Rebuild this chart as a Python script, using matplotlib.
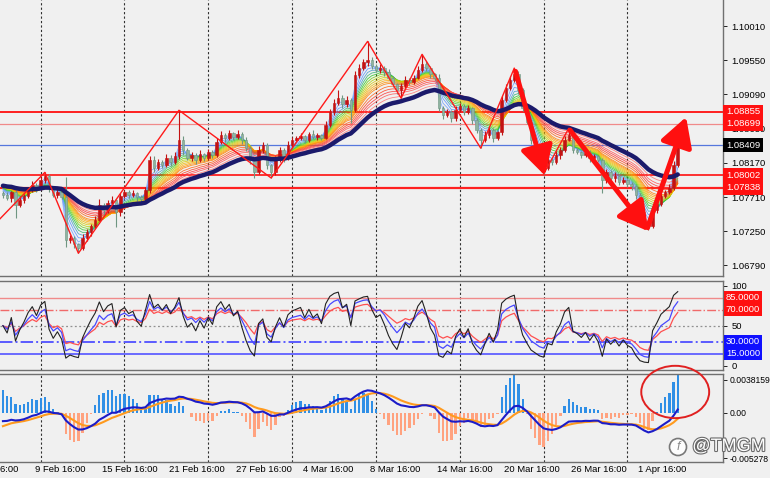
import numpy as np
import matplotlib
matplotlib.use("Agg")
import matplotlib.pyplot as plt
from matplotlib.colors import LinearSegmentedColormap
from matplotlib.patches import Ellipse
from matplotlib.transforms import blended_transform_factory
import matplotlib.patheffects as pe

plt.rcParams['font.family'] = ['Liberation Sans', 'DejaVu Sans']

# --- price data (EURUSD) ---
open0 = 1.07760
closes = [
    1.07737, 1.07697, 1.07777, 1.07602, 1.07670, 1.07723, 1.07804, 1.07871, 1.07831, 1.07939,
    1.07992, 1.07831, 1.07737, 1.07777, 1.07710, 1.07132, 1.07159, 1.07078, 1.07024, 1.07159,
    1.07239, 1.07320, 1.07401, 1.07602, 1.07535, 1.07629, 1.07670, 1.07508, 1.07723, 1.07777,
    1.07737, 1.07764, 1.07710, 1.07683, 1.07804, 1.08208, 1.08100, 1.08181, 1.08140, 1.08235,
    1.08181, 1.08261, 1.08477, 1.08342, 1.08235, 1.08275, 1.08208, 1.08288, 1.08235, 1.08315,
    1.08275, 1.08450, 1.08544, 1.08504, 1.08571, 1.08517, 1.08557, 1.08477, 1.08369, 1.08208,
    1.08046, 1.08342, 1.08409, 1.08140, 1.08046, 1.08208, 1.08342, 1.08235, 1.08409, 1.08477,
    1.08504, 1.08530, 1.08477, 1.08557, 1.08517, 1.08544, 1.08504, 1.08678, 1.08853, 1.08974,
    1.09042, 1.08961, 1.09015, 1.08880, 1.09351, 1.09445, 1.09526, 1.09553, 1.09472, 1.09418,
    1.09445, 1.09391, 1.09311, 1.09230, 1.09149, 1.09203, 1.09284, 1.09257, 1.09311, 1.09418,
    1.09499, 1.09445, 1.09364, 1.09311, 1.08907, 1.08813, 1.08853, 1.08773, 1.08880, 1.08934,
    1.08853, 1.08907, 1.08746, 1.08611, 1.08477, 1.08544, 1.08611, 1.08504, 1.08584, 1.09015,
    1.09176, 1.09284, 1.09364, 1.09149, 1.08907, 1.08719, 1.08477, 1.08342, 1.08181, 1.08100,
    1.08208, 1.08181, 1.08275, 1.08342, 1.08477, 1.08544, 1.08342, 1.08315, 1.08275, 1.08302,
    1.08235, 1.08261, 1.08208, 1.07939, 1.08046, 1.07966, 1.07992, 1.07912, 1.07939, 1.07885,
    1.07858, 1.07737, 1.07508, 1.07374, 1.07320, 1.07535, 1.07616, 1.07723, 1.07777, 1.07831,
    1.08140, 1.08409,
]
# wicks in pips above/below the candle body
up_wick = [
    3, 4, 2, 3, 5, 3, 4, 6, 3, 4, 5, 3, 2, 4, 3, 27, 4, 3, 2, 5,
    4, 3, 6, 8, 3, 4, 5, 2, 4, 3, 3, 4, 2, 3, 4, 6, 5, 4, 3, 5,
    4, 6, 40, 5, 3, 4, 3, 5, 2, 4, 3, 5, 6, 3, 4, 2, 5, 3, 4, 3,
    2, 6, 4, 3, 2, 5, 4, 3, 6, 4, 3, 4, 2, 3, 5, 3, 2, 6, 4, 5,
    11, 4, 5, 3, 6, 5, 4, 25, 4, 3, 5, 3, 4, 3, 2, 4, 5, 3, 4, 6,
    13, 4, 3, 2, 5, 3, 4, 3, 6, 4, 3, 4, 2, 3, 3, 5, 4, 3, 2, 6,
    6, 5, 8, 4, 3, 2, 3, 4, 2, 3, 4, 3, 5, 4, 6, 9, 3, 4, 2, 3,
    4, 3, 2, 3, 4, 3, 5, 3, 4, 2, 3, 2, 3, 2, 3, 4, 3, 4, 3, 5,
    6, 4,
]
lo_wick = [
    4, 3, 5, 17, 3, 4, 3, 2, 5, 3, 4, 5, 3, 4, 3, 9, 4, 5, 7, 3,
    4, 5, 3, 2, 6, 4, 3, 20, 5, 3, 4, 3, 5, 4, 3, 4, 5, 3, 4, 3,
    5, 3, 4, 6, 3, 4, 5, 3, 4, 3, 4, 3, 2, 5, 3, 4, 3, 5, 4, 6,
    8, 3, 4, 5, 8, 4, 3, 5, 3, 4, 2, 3, 4, 3, 2, 4, 3, 2, 3, 4,
    3, 5, 4, 17, 3, 4, 3, 5, 4, 3, 4, 5, 3, 4, 5, 11, 3, 4, 3, 2,
    3, 4, 5, 3, 4, 6, 3, 5, 4, 3, 4, 3, 5, 4, 11, 3, 4, 5, 3, 4,
    3, 2, 3, 5, 4, 3, 5, 4, 3, 8, 3, 4, 3, 5, 3, 2, 4, 3, 4, 3,
    5, 4, 3, 17, 4, 3, 5, 4, 3, 4, 5, 6, 4, 5, 5, 3, 4, 3, 2, 3,
    3, 2,
]
ma_seed = 1.07871          # moving averages start level
macd_seeds = (1.07780, 1.07885, -0.0018)

# zigzag pivots (bar index, H = high / L = low)
zz_start = (-1, 1.07400)
zz_bars = [10, 18, 42, 64, 87, 95, 100, 114, 122, 129, 135, 154, 161]
zz_kind = ['H', 'L', 'H', 'L', 'H', 'L', 'H', 'L', 'H', 'L', 'H', 'L', 'C']
arrow_from = [(122.3, 1.09400), (135.3, 1.08610), (153.8, 1.07300)]
arrow_to = [(129.3, 1.08000), (154.0, 1.07250), (163.0, 1.08786)]

levels = [1.08855, 1.08699, 1.08002, 1.07838]
level_colors = ['#ff1010', '#f08a8a', '#ff1010', '#ff2020']
level_widths = [1.3, 0.9, 1.2, 1.6]
bid = 1.08409

price_ticks = [1.10010, 1.09550, 1.09090, 1.08630, 1.08170, 1.07710, 1.07250, 1.06790]
macd_ticks = [0.0038159, 0.0, -0.005278]
macd_tick_labels = ['0.0038159', '0.00', '-0.005278']
date_labels = ['5 Feb 16:00', '9 Feb 16:00', '15 Feb 16:00', '21 Feb 16:00', '27 Feb 16:00',
               '4 Mar 16:00', '8 Mar 16:00', '14 Mar 16:00', '20 Mar 16:00', '26 Mar 16:00',
               '1 Apr 16:00']

# --- indicators ---
c = np.array(closes)
o = np.r_[open0, c[:-1]]
hi = np.maximum(o, c) + np.array(up_wick) * 1e-4
lo = np.minimum(o, c) - np.array(lo_wick) * 1e-4
x = np.arange(len(c))


def ema(v, n, seed):
    a = 2.0 / (n + 1)
    out = np.empty(len(v))
    prev = seed
    for i, val in enumerate(v):
        prev = prev + a * (val - prev)
        out[i] = prev
    return out


def rsi(v, n):
    d = np.diff(np.r_[v[0], v])
    g = np.clip(d, 0, None)
    l = np.clip(-d, 0, None)
    ag = np.empty(len(v)); al = np.empty(len(v))
    pg, pl = 0.0004, 0.0004
    for i in range(len(v)):
        pg = pg + (g[i] - pg) / n
        pl = pl + (l[i] - pl) / n
        ag[i], al[i] = pg, pl
    return 100 - 100 / (1 + ag / al)


BG = '#f0f0f0'
fig = plt.figure(figsize=(7.7, 4.78), dpi=100, facecolor=BG)
W, H = 770.0, 478.0
ax = fig.add_axes([0, (H - 276) / H, 723 / W, 276 / H], facecolor=BG)
ax_r = fig.add_axes([0, (H - 370) / H, 723 / W, 89 / H], facecolor=BG, sharex=ax)
ax_m = fig.add_axes([0, (H - 462) / H, 723 / W, 88 / H], facecolor=BG, sharex=ax)

xlim = (-0.7, 171.8)
grid_x = np.arange(9, 160, 20)
for a in (ax, ax_r, ax_m):
    a.set_xlim(*xlim)
    for gx in grid_x:
        a.axvline(gx, color='#303030', lw=0.8, ls=(0, (2, 2)), zorder=1)
    a.tick_params(axis='x', bottom=False, labelbottom=False)
    a.yaxis.tick_right()
    a.tick_params(axis='y', length=3, width=0.6, pad=3, labelsize=6.8, colors='black')
    a.spines['left'].set_visible(False)
    for s in ('top', 'bottom', 'right'):
        a.spines[s].set_color('#707070')
        a.spines[s].set_linewidth(1.0)
ax.spines['top'].set_visible(False)
ax_m.tick_params(axis='y', labelsize=6.2, pad=2)

# --- price panel ---
ax.set_ylim(1.06648, 1.10360)
ax.set_yticks(price_ticks)
ax.set_yticklabels(['%.5f' % t for t in price_ticks])

for lv, col, lw in zip(levels, level_colors, level_widths):
    ax.axhline(lv, color=col, lw=lw, zorder=1.5)
ax.axhline(bid, color='#5577dd', lw=0.9, zorder=1.5)

rainbow = LinearSegmentedColormap.from_list(
    'rb', ['#7aa6ff', '#4f8cff', '#22cc22', '#c8d400', '#ffb000', '#ff7a00', '#ff2a2a', '#ff7070'])
periods = [2, 3, 4, 5, 6, 7, 8, 9, 10, 11, 12, 13, 14, 16, 18, 20, 22, 25]
for k, p in enumerate(periods):
    ax.plot(x, ema(c, p, ma_seed), color=rainbow(k / (len(periods) - 1)), lw=0.6, alpha=0.85, zorder=2)

bull = c >= o
col = np.where(bull, '#c41212', '#6f9682')
ax.vlines(x, lo, hi, colors=col, lw=0.8, zorder=3)
ax.bar(x, np.maximum(np.abs(c - o), 0.00004), bottom=np.minimum(o, c), width=0.6,
       color=np.where(bull, '#c41212', '#8fb3a0'), edgecolor=col, linewidth=0.4, zorder=3)

ax.plot(x, ema(c, 30, ma_seed), color='#1b1a6b', lw=3.2, zorder=4, solid_capstyle='round')

zz_x = [zz_start[0]] + zz_bars
zz_y = [zz_start[1]] + [hi[b] if k == 'H' else lo[b] if k == 'L' else c[b]
                        for b, k in zip(zz_bars, zz_kind)]
ax.plot(zz_x, zz_y, color='#ff1a1a', lw=1.0, zorder=5)
for (x0, y0), (x1, y1) in zip(arrow_from, arrow_to):
    ax.annotate('', xy=(x1, y1), xytext=(x0, y0), zorder=6,
                arrowprops=dict(arrowstyle='-|>,head_length=0.8,head_width=0.45', color='#ff1010',
                                lw=3.6, mutation_scale=22, shrinkA=0, shrinkB=0))

ytr = blended_transform_factory(ax.transAxes, ax.transData)
box = dict(boxstyle='square,pad=0.3', ec='none')
for lv in levels:
    ax.text(1.004, lv, '%.5f' % lv, transform=ytr, color='white', fontsize=6.8, va='center',
            ha='left', clip_on=False, zorder=10, bbox=dict(box, fc='#ff1010'))
ax.text(1.004, bid, '%.5f' % bid, transform=ytr, color='white', fontsize=6.8, va='center', ha='left',
        clip_on=False, zorder=10, bbox=dict(box, fc='black'))

# --- RSI panel ---
ax_r.set_ylim(-5.4, 105.9)
ax_r.set_yticks([100, 50, 0])
ax_r.set_yticklabels(['100', '50', '0'])
ax_r.axhline(85, color='#f08a8a', lw=1.0, zorder=1.5)
ax_r.axhline(70, color='#f06a6a', lw=1.0, ls='-.', zorder=1.5)
ax_r.axhline(50, color='#909090', lw=0.9, ls=(0, (1.5, 2)), zorder=1.5)
ax_r.axhline(30, color='#5a5aff', lw=1.4, ls='-.', zorder=1.5)
ax_r.axhline(15, color='#6a6aff', lw=1.4, zorder=1.5)
ax_r.plot(x, rsi(c, 12), color='#ff5050', lw=0.9, zorder=3)
ax_r.plot(x, rsi(c, 7), color='#4848ff', lw=0.9, zorder=3)
ax_r.plot(x, rsi(c, 4), color='#222222', lw=0.8, zorder=3)
rtr = blended_transform_factory(ax_r.transAxes, ax_r.transData)
for lv, fc in zip([85, 70, 30, 15], ['#ff1010', '#ff1010', '#1010ff', '#1010ff']):
    ax_r.text(1.004, lv, '%.4f' % lv, transform=rtr, color='white', fontsize=6.8, va='center',
              ha='left', clip_on=False, zorder=10,
              bbox=dict(boxstyle='square,pad=0.2', fc=fc, ec='none'))

# --- MACD panel ---
fast = ema(c, 8, macd_seeds[0])
slow = ema(c, 17, macd_seeds[1])
macd = fast - slow
signal = ema(macd, 6, macd_seeds[2])
hist = 4.5 * (macd - signal)
ax_m.set_ylim(-0.005744, 0.004515)
ax_m.set_yticks(macd_ticks)
ax_m.set_yticklabels(macd_tick_labels)
ax_m.bar(x, hist, width=0.55, color=np.where(hist >= 0, '#2f8fe6', '#ffa27f'), zorder=2)
ax_m.plot(x, signal, color='#ff9a1e', lw=1.5, zorder=3)
ax_m.plot(x, macd, color='#1c1cc8', lw=1.5, zorder=4)
ax_m.add_patch(Ellipse((160.4, 0.00242), 16.2, 0.0061, fill=False, ec='#e02020', lw=1.4,
                       zorder=6, clip_on=False))

dtr = blended_transform_factory(ax_m.transData, ax_m.transAxes)
for k, lab in enumerate(date_labels):
    ax_m.text(-8.4 + 16 * k, -0.09, lab, transform=dtr, fontsize=6.8, ha='left', va='center',
              clip_on=False)

# watermark
fig.text(0.899, 0.066, '@TMGM', fontsize=13, color='white', ha='left', va='center',
         path_effects=[pe.withStroke(linewidth=1.6, foreground='#6a6a6a')])
fig.patches.append(Ellipse((678 / W, 1 - 447 / H), 17 / W, 17 / H, transform=fig.transFigure,
                           fc='white', ec='#6a6a6a', lw=1.2, alpha=0.9))
fig.text(678 / W, 1 - 447 / H, 'f', fontsize=9, color='#8a8a8a', ha='center', va='center',
         style='italic')

fig.savefig('out.png', dpi=100, facecolor=BG)
